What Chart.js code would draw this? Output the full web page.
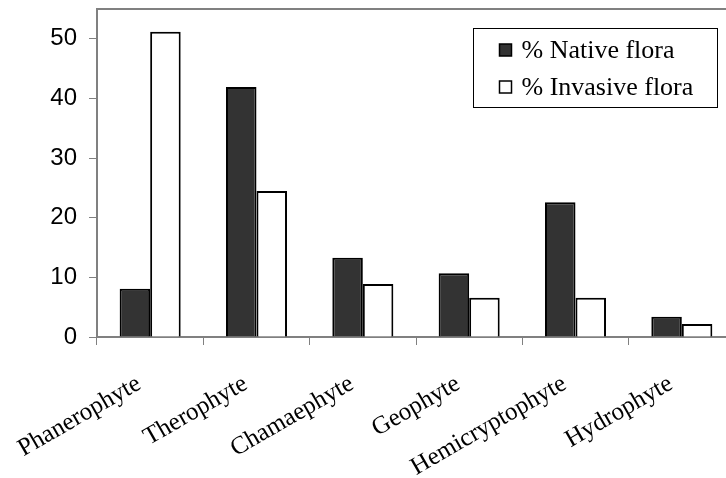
<!DOCTYPE html>
<html>
<head>
<meta charset="utf-8">
<script src="https://cdn.jsdelivr.net/npm/chart.js@4"></script>
<style>
  html, body { margin: 0; padding: 0; background: #fff; overflow: hidden; }
  #wrap { position: relative; width: 745px; height: 478px; }
</style>
</head>
<body>
<div id="wrap"><canvas id="flora-chart"></canvas></div>
<script>
(function () {
    'use strict';

    const categories = ['Phanerophyte', 'Therophyte', 'Chamaephyte', 'Geophyte', 'Hemicryptophyte', 'Hydrophyte'];
    const nativeFlora = [8.1, 41.9, 13.3, 10.7, 22.6, 3.4];
    const invasiveFlora = [51.2, 24.5, 8.9, 6.6, 6.6, 2.2];
    const yTicks = [0, 10, 20, 30, 40, 50];

    const axisGray = '#808080';
    const serif = '"Liberation Serif", "Times New Roman", serif';
    const sans = '"Liberation Sans", Arial, sans-serif';

    // top edge of the plot area + the legend box inside it
    const framePlugin = {
        id: 'frame',
        afterDraw(chart) {
            const { ctx, chartArea } = chart;
            ctx.save();
            ctx.strokeStyle = axisGray;
            ctx.lineWidth = 2;
            ctx.beginPath();
            ctx.moveTo(chartArea.left - 1, chartArea.top);
            ctx.lineTo(chartArea.right, chartArea.top);
            ctx.stroke();

            const bx = 473.5, by = 28.5, bw = 244, bh = 79;
            ctx.fillStyle = '#fff';
            ctx.fillRect(bx, by, bw, bh);
            ctx.strokeStyle = '#000';
            ctx.lineWidth = 1;
            ctx.strokeRect(bx, by, bw, bh);

            ctx.font = '26px ' + serif;
            ctx.textBaseline = 'middle';
            chart.data.datasets.forEach((ds, i) => {
                const cy = by + 21.5 + i * 37;
                ctx.fillStyle = ds.backgroundColor;
                ctx.fillRect(bx + 26, cy - 6, 12, 12);
                ctx.strokeStyle = '#000';
                ctx.lineWidth = 1.5;
                ctx.strokeRect(bx + 26, cy - 6, 12, 12);
                ctx.fillStyle = '#000';
                ctx.fillText(ds.label, bx + 48, cy + 1);
            });
            ctx.restore();
        },
    };

    new Chart(document.getElementById('flora-chart'), {
        type: 'bar',
        data: {
            labels: categories,
            datasets: [
                {
                    label: '% Native flora',
                    data: nativeFlora,
                    backgroundColor: '#333333',
                    borderColor: '#000',
                    borderWidth: 2,
                    categoryPercentage: 0.574,
                    barPercentage: 1.0,
                },
                {
                    label: '% Invasive flora',
                    data: invasiveFlora,
                    backgroundColor: '#ffffff',
                    borderColor: '#000',
                    borderWidth: 2,
                    categoryPercentage: 0.574,
                    barPercentage: 1.0,
                },
            ],
        },
        options: {
            responsive: true,
            maintainAspectRatio: false,
            animation: false,
            layout: { padding: { left: 0, right: 10, top: 9, bottom: 0 } },
            plugins: {
                legend: { display: false },
                tooltip: { enabled: false },
            },
            scales: {
                x: {
                    offset: true,
                    grid: {
                        offset: true,
                        drawOnChartArea: false,
                        tickColor: axisGray,
                        tickLength: 8,
                        tickWidth: 1,
                    },
                    border: { color: axisGray, width: 2 },
                    ticks: {
                        color: '#000',
                        font: { family: serif, size: 25 },
                        minRotation: 30,
                        maxRotation: 30,
                        padding: 24,
                        labelOffset: -11,
                        autoSkip: false,
                    },
                    afterFit: (scale) => {
                        scale.height = 141;
                        scale.paddingLeft = 0;
                        scale.paddingRight = 0;
                    },
                },
                y: {
                    min: 0,
                    max: 55,
                    ticks: {
                        stepSize: 10,
                        color: '#000',
                        font: { family: sans, size: 24 },
                        padding: 12,
                    },
                    afterBuildTicks: (scale) => {
                        scale.ticks = yTicks.map((v) => ({ value: v }));
                    },
                    grid: {
                        drawOnChartArea: false,
                        tickColor: axisGray,
                        tickLength: 8,
                        tickWidth: 1,
                    },
                    border: { color: axisGray, width: 2 },
                    afterFit: (scale) => {
                        scale.width = 97;
                        scale.paddingTop = 0;
                        scale.paddingBottom = 0;
                    },
                },
            },
        },
        plugins: [framePlugin],
    });
})();
</script>
</body>
</html>
